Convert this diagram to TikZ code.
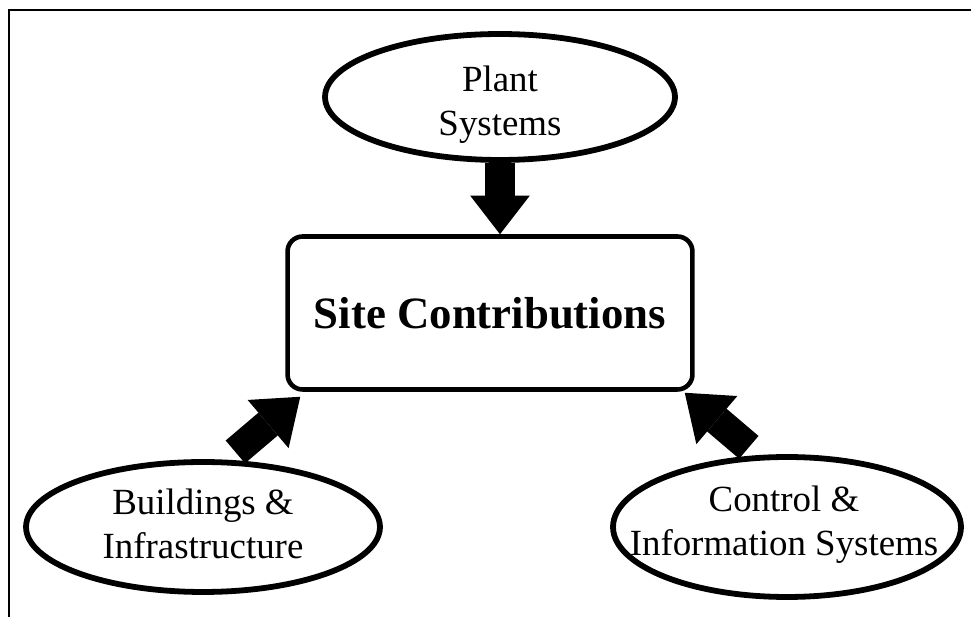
\documentclass[tikz,border=0pt]{standalone}
\usepackage{fontspec}
\setmainfont{Liberation Serif}
\usetikzlibrary{shapes.geometric,arrows.meta}

\begin{document}
\begin{tikzpicture}[x=0.02cm, y=-0.02cm]

\useasboundingbox (0,0) rectangle (971,617);

% Outer frame (only top and left show)
\draw[line width=1.2pt] (9,617) -- (9,10) -- (971,10);

% Centre box
\node[draw,
    rounded corners=0.3cm,
    line width=2.6pt,
    minimum width=8.1cm,
    minimum height=3.06cm,
    font=\fontsize{25.5}{30}\selectfont\bfseries] (site) at (490,313) {Site Contributions};

% Ellipse 1
\node[draw,
    ellipse,
    line width=3.3pt,
    minimum width=7cm,
    minimum height=2.52cm] (plant) at (500,97) {};
\node[align=center, font=\fontsize{21}{25}\selectfont] (planttext) at ([shift={(0,8)}]plant) {Plant\\Systems};

% Ellipse 2
\node[draw,
    ellipse,
    line width=3.3pt,
    minimum width=7.08cm,
    minimum height=2.6cm] (build) at (203,527) {};
\node[align=center, font=\fontsize{21}{25}\selectfont] (buildtext) at ([shift={(0,-3)}]build) {Buildings \&\\Infrastructure};

% Ellipse 3
\node[draw,
    ellipse,
    line width=3.3pt,
    minimum width=6.96cm,
    minimum height=2.8cm] (ctrl) at (787,527) {};
\node[align=center, font=\fontsize{21}{25}\selectfont] (ctrltext) at ([shift={(-3,-2)}]ctrl) {Control \&\\Information Systems};

% Block arrows into the box
\draw[line width=17pt, -{Triangle[width=34pt, length=22pt, line width=0pt]}]
    (plant.south) -- (plant.south |- site.north);
\draw[line width=17pt, shorten <=0.24cm, -{Triangle[width=36pt, length=24pt, line width=0pt]}]
    (build.71) -- ([shift={(15,5)}]site.south west);
\draw[line width=17pt, shorten <=0.24cm, -{Triangle[width=36pt, length=24pt, line width=0pt]}]
    (ctrl.112) -- ([shift={(-10,1)}]site.south east);

\end{tikzpicture}
\end{document}
